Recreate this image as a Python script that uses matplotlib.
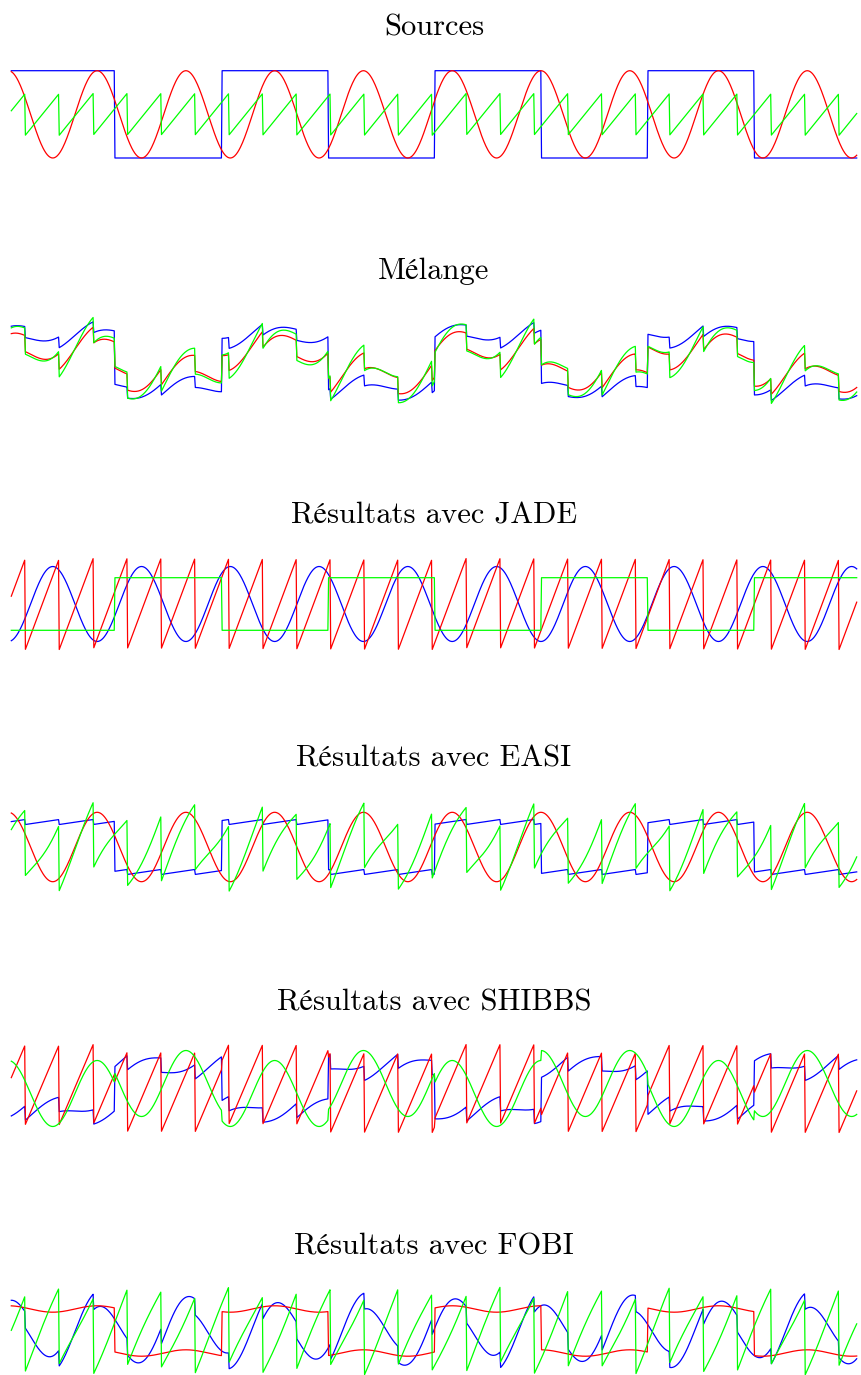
import numpy as np
import matplotlib.pyplot as plt

# time axis: sawtooth period is 1, square is sign(sin(t)), sine is cos(2.4 t)
t_start, t_end, n_samples = 0.086, 25.02, 1200
sine_freq = 2.4
saw_amp = 0.478

titles = ['Sources', 'Mélange', 'Résultats avec JADE', 'Résultats avec EASI',
          'Résultats avec SHIBBS', 'Résultats avec FOBI']
colors = ['#0000ff', '#ff0000', '#00ff00']   # blue, red, green lines

# rows: blue, red, green ; columns: square, sine, sawtooth
coef_sources = [[1.0, 0.0, 0.0], [0.0, 1.0, 0.0], [0.0, 0.0, saw_amp]]
coef_melange = [[1.015, 0.304, 0.209], [0.494, 0.532, 0.304], [0.532, 0.684, 0.494]]
coef_jade = [[0.0, -1.426, 0.0], [0.0, 0.0, 1.73], [-1.0, 0.0, 0.0]]
coef_easi = [[0.95, 0.0, 0.095], [0.0, 1.32, 0.0], [0.0, 0.456, 1.25]]
coef_shibbs = [[-0.837, -0.259, 0.274], [0.152, 0.0, 1.52], [-0.19, 1.255, 0.0]]
coef_fobi = [[0.0, 1.14, 0.304], [0.837, 0.122, 0.0], [0.0, -0.228, 1.445]]
panels = [coef_sources, coef_melange, coef_jade, coef_easi, coef_shibbs, coef_fobi]

t = np.linspace(t_start, t_end, n_samples)
square = np.sign(np.sin(t))
sine = np.cos(sine_freq * t)
saw = 2 * np.mod(t + 0.5, 1.0) - 1
sources = np.vstack([square, sine, saw])

# layout in pixels
W, H = 861, 1375
left_px, width_px = 11.3, 845.4
top0, step, ax_h = 50.0, 243.8, 110.0
centers = [114.35, 361.7, 604.0, 847.0, 1088.5, 1331.0]
scales = [43.65, 26.3, 26.3, 26.3, 26.3, 26.3]

# cmr10 has no accented letters, STIX supplies the missing glyphs
plt.rcParams['font.family'] = ['cmr10', 'STIXGeneral', 'DejaVu Serif']
fig = plt.figure(figsize=(W / 100, H / 100), dpi=100)

for i, (title, coef) in enumerate(zip(titles, panels)):
    top = top0 + i * step
    ax = fig.add_axes([left_px / W, 1 - (top + ax_h) / H, width_px / W, ax_h / H])
    lines = np.array(coef) @ sources
    for y, c in zip(lines, colors):
        ax.plot(t, y, color=c, lw=0.9, clip_on=False)
    ax.set_xlim(t[0], t[-1])
    ax.set_ylim(-(top + ax_h - centers[i]) / scales[i], (centers[i] - top) / scales[i])
    ax.set_title(title, fontsize=22, pad=10.4)
    ax.axis('off')

fig.savefig('out.png', dpi=100)
